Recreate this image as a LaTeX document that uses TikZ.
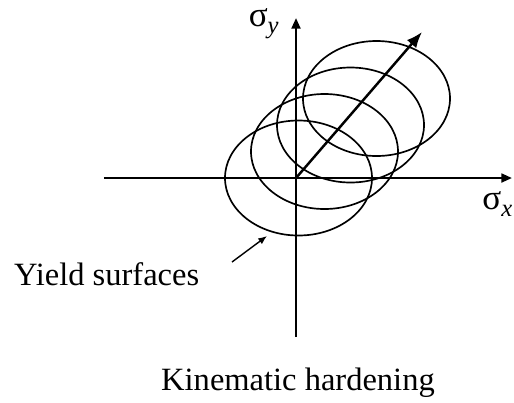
\documentclass[tikz,border=0pt]{standalone}
\usepackage{fontspec}
\setmainfont{Liberation Serif}
\usepackage{tikz}
\usetikzlibrary{arrows.meta, positioning, calc}
\newcommand{\sigidx}[1]{{\fontsize{20}{22}\selectfont σ}\raisebox{-0.5ex}{\fontsize{14}{16}\selectfont\itshape #1}}

\begin{document}
\begin{tikzpicture}[font=\fontsize{18.5}{22}\selectfont,
    axis/.style={line width=1.3pt, -{Triangle[length=6pt, width=5pt]}},
    surface/.style={line width=0.95pt},
    drift/.style={line width=1.4pt, -{Latex[length=9pt, width=7pt]}},
    pointer/.style={line width=0.8pt, -{Latex[length=5pt, width=4pt]}}]
    \useasboundingbox (-5.92,-4.48) rectangle (4.36,3.56);
    % axes
    \coordinate (o) at (0,0);
    \coordinate (xl) at (-3.84,0);
    \coordinate (xr) at (4.32,0);
    \coordinate (yb) at (0,-3.18);
    \coordinate (yt) at (0,3.2);
    \draw[axis] (xl) -- (xr);
    \draw[axis] (yb) -- (yt);
    \node[anchor=base west, inner sep=0pt] (sx) at (3.72,-0.62) {\sigidx{x}};
    \node[anchor=base east, inner sep=0pt] (sy) at (-0.34,3.04) {\sigidx{y}};
    % yield surfaces, shifted along the loading path
    \foreach \k in {0,1,2,3}
      \draw[surface] (0.05+0.52*\k,0.53*\k) ellipse (1.47 and 1.15);
    % loading path
    \coordinate (tip) at (2.52,2.92);
    \draw[drift] (o) -- (tip);
    % labels
    \node[anchor=west] (yield) at (-5.76,-1.92) {Yield surfaces};
    \coordinate (ptail) at (-1.28,-1.68);
    \coordinate (phead) at (-0.58,-1.16);
    \draw[pointer] (ptail) -- (phead);
    \node (title) at (0.04,-4.1) {Kinematic hardening};
  \end{tikzpicture}
\end{document}
